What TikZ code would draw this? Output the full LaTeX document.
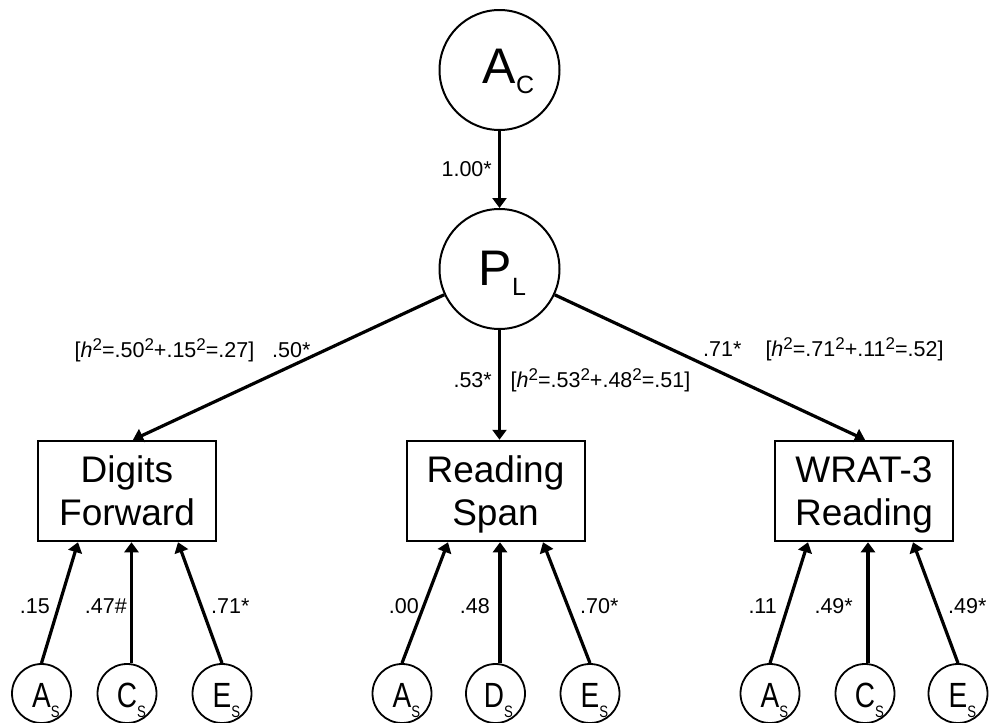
\documentclass[tikz,border=0pt]{standalone}
\usepackage{fontspec}
\setmainfont{Liberation Sans}
\usetikzlibrary{arrows.meta}

% font size helper
\newcommand{\fsz}[1]{\fontsize{#1}{#1}\selectfont}
% squared superscript used in the heritability labels
\newcommand{\sqr}{\raisebox{6.5pt}{\fsz{17}2}}
% latent variable names with hanging subscripts
\newcommand{\bigvar}[2]{{\fsz{50}#1}\rlap{\raisebox{-10pt}{\fsz{25}#2}}}
\newcommand{\smallvar}[2]{\scalebox{0.8}[1]{{\fsz{35}#1}\rlap{\raisebox{-10pt}{\fsz{16.5}#2}}}}

\begin{document}
\begin{tikzpicture}[x=1pt,y=-1pt,
  bigcirc/.style={circle,draw,line width=2pt,minimum size=120pt,inner sep=0pt},
  smallcirc/.style={circle,draw,line width=1.8pt,minimum size=59pt,inner sep=0pt},
  obsbox/.style={rectangle,draw,line width=2pt,minimum width=178pt,minimum height=100.5pt,inner sep=0pt},
  boxtxt/.style={anchor=base,inner sep=0pt,font=\fsz{37}},
  vartxt/.style={anchor=base,inner sep=0pt},
  lab/.style={inner sep=0pt,font=\fsz{21.5}},
  arr/.style={line width=3.2pt,-{Triangle[length=10pt,width=14pt]}}
]
\useasboundingbox (0,0) rectangle (989,723);

% common factor and phenotypic latent factor
\node[bigcirc] (AC) at (499.5,70) {};
\node[vartxt] (ACt) at (499.5,83) {\bigvar{A}{C}};
\node[bigcirc] (PL) at (499.5,269) {};
\node[vartxt] (PLt) at (495.5,285) {\bigvar{P}{L}};

% observed measures
\node[obsbox] (DF) at (127,491) {};
\node[boxtxt] (DFa) at (127,482.5) {Digits};
\node[boxtxt] (DFb) at (127,525) {Forward};
\node[obsbox] (RS) at (495.5,491) {};
\node[boxtxt] (RSa) at (495.5,482.5) {Reading};
\node[boxtxt] (RSb) at (495.5,525) {Span};
\node[obsbox] (WR) at (864,491) {};
\node[boxtxt] (WRa) at (864,482.5) {WRAT-3};
\node[boxtxt] (WRb) at (864,525) {Reading};

% specific factors
\node[smallcirc] (AS1) at (41.5,693.5) {};
\node[vartxt] (AS1t) at (41.5,707) {\smallvar{A}{S}};
\node[smallcirc] (CS1) at (127,693.5) {};
\node[vartxt] (CS1t) at (127,707) {\smallvar{C}{S}};
\node[smallcirc] (ES1) at (222,693.5) {};
\node[vartxt] (ES1t) at (222,707) {\smallvar{E}{S}};

\node[smallcirc] (AS2) at (402,693.5) {};
\node[vartxt] (AS2t) at (402,707) {\smallvar{A}{S}};
\node[smallcirc] (DS2) at (495.5,693.5) {};
\node[vartxt] (DS2t) at (494,707) {\smallvar{D}{S}};
\node[smallcirc] (ES2) at (590,693.5) {};
\node[vartxt] (ES2t) at (590,707) {\smallvar{E}{S}};

\node[smallcirc] (AS3) at (770,693.5) {};
\node[vartxt] (AS3t) at (770,707) {\smallvar{A}{S}};
\node[smallcirc] (CS3) at (865,693.5) {};
\node[vartxt] (CS3t) at (865,707) {\smallvar{C}{S}};
\node[smallcirc] (ES3) at (958,693.5) {};
\node[vartxt] (ES3t) at (958,707) {\smallvar{E}{S}};

% paths from the factors
\draw[arr] (AC) -- (PL);
\draw[arr] (PL) -- ([xshift=6pt]DF.north);
\draw[arr] (PL.south) -- (PL.south |- RS.north);
\draw[arr] (PL) -- ([xshift=1pt]WR.north);

\draw[arr] (AS1.north) -- ([xshift=-49pt]DF.south);
\draw[arr] ([xshift=4.5pt]CS1.north) -- ([xshift=4.5pt]CS1.north |- DF.south);
\draw[arr] (ES1.north) -- ([xshift=51pt]DF.south);

\draw[arr] (AS2.north) -- ([xshift=-47.5pt]RS.south);
\draw[arr] ([xshift=4.5pt]DS2.north) -- ([xshift=4.5pt]DS2.north |- RS.south);
\draw[arr] (ES2.north) -- ([xshift=47.5pt]RS.south);

\draw[arr] (AS3.north) -- ([xshift=-56pt]WR.south);
\draw[arr] ([xshift=3pt]CS3.north) -- ([xshift=3pt]CS3.north |- WR.south);
\draw[arr] (ES3.north) -- ([xshift=49pt]WR.south);

% path coefficients
\node[lab,anchor=base east] (l100) at (492,176) {1.00*};
\node[lab,anchor=base] (h1) at (164.5,357) {[\textit{h}\sqr=.50\sqr+.15\sqr=.27]};
\node[lab,anchor=base west] (l50) at (272,357) {.50*};
\node[lab,anchor=base east] (l53) at (492,387) {.53*};
\node[lab,anchor=base] (h2) at (600.5,387) {[\textit{h}\sqr=.53\sqr+.48\sqr=.51]};
\node[lab,anchor=base west] (l71) at (703,356) {.71*};
\node[lab,anchor=base] (h3) at (854.5,356) {[\textit{h}\sqr=.71\sqr+.11\sqr=.52]};

\node[lab,anchor=base east] (a1) at (50,613) {.15};
\node[lab,anchor=base east] (c1) at (127,613) {.47\#};
\node[lab,anchor=base west] (e1) at (211,613) {.71*};
\node[lab,anchor=base east] (a2) at (419,613) {.00};
\node[lab,anchor=base east] (d2) at (490,613) {.48};
\node[lab,anchor=base west] (e2) at (580,613) {.70*};
\node[lab,anchor=base east] (a3) at (777,613) {.11};
\node[lab,anchor=base east] (c3) at (853,613) {.49*};
\node[lab,anchor=base west] (e3) at (948,613) {.49*};
\end{tikzpicture}
\end{document}
